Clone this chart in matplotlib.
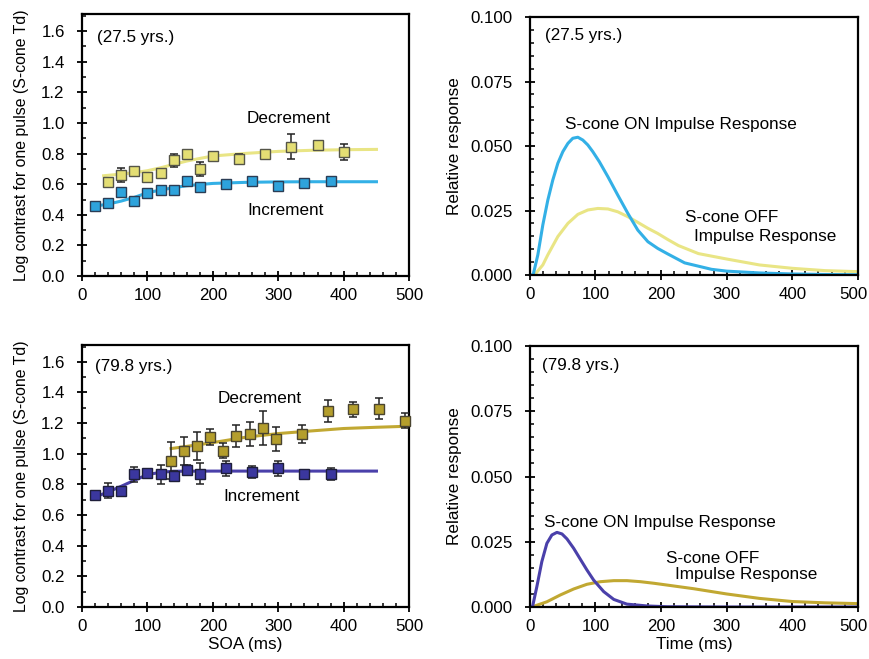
import matplotlib.pyplot as plt
from matplotlib.ticker import MultipleLocator, FuncFormatter

plt.rcParams['font.family'] = ['Liberation Sans', 'DejaVu Sans']

# ---- top left: 27.5 yrs, thresholds vs SOA ----
tl_inc_x = [20, 40, 60, 80, 100, 120, 140, 160, 180, 220, 260, 300, 340, 380]
tl_inc_y = [0.46, 0.48, 0.55, 0.49, 0.54, 0.56, 0.56, 0.62, 0.58, 0.60, 0.62, 0.59, 0.61, 0.62]
tl_inc_err = [0.015, 0.02, 0.02, 0.015, 0.015, 0.015, 0.015, 0.02, 0.015, 0.015, 0.015, 0.015, 0.015, 0.015]
tl_dec_x = [40, 60, 80, 100, 120, 140, 160, 180, 200, 240, 280, 320, 360, 400]
tl_dec_y = [0.615, 0.66, 0.685, 0.65, 0.675, 0.755, 0.795, 0.70, 0.785, 0.765, 0.80, 0.845, 0.855, 0.81]
tl_dec_err = [0.02, 0.045, 0.03, 0.02, 0.02, 0.04, 0.03, 0.045, 0.015, 0.03, 0.015, 0.08, 0.015, 0.05]
tl_fit_inc_x = [20, 40, 60, 80, 100, 120, 140, 160, 180, 200, 250, 300, 350, 400, 450]
tl_fit_inc_y = [0.457, 0.470, 0.490, 0.514, 0.544, 0.562, 0.577, 0.590, 0.598, 0.605, 0.612, 0.615, 0.616, 0.616, 0.616]
tl_fit_dec_x = [33, 60, 80, 100, 120, 140, 160, 180, 200, 250, 300, 350, 400, 450]
tl_fit_dec_y = [0.655, 0.666, 0.675, 0.688, 0.707, 0.729, 0.751, 0.768, 0.784, 0.801, 0.814, 0.821, 0.825, 0.827]

# ---- bottom left: 79.8 yrs ----
bl_inc_x = [20, 40, 60, 80, 100, 120, 140, 160, 180, 220, 260, 300, 340, 380]
bl_inc_y = [0.73, 0.76, 0.76, 0.865, 0.875, 0.865, 0.855, 0.895, 0.87, 0.905, 0.88, 0.905, 0.865, 0.87]
bl_inc_err = [0.02, 0.05, 0.02, 0.05, 0.02, 0.06, 0.03, 0.03, 0.07, 0.05, 0.04, 0.05, 0.02, 0.04]
bl_dec_x = [136, 156, 176, 196, 216, 236, 256, 276, 296, 336, 376, 414, 454, 494]
bl_dec_y = [0.955, 1.02, 1.05, 1.11, 1.02, 1.115, 1.13, 1.17, 1.095, 1.13, 1.28, 1.29, 1.295, 1.215]
bl_dec_err = [0.12, 0.09, 0.09, 0.05, 0.05, 0.07, 0.08, 0.11, 0.08, 0.06, 0.07, 0.05, 0.07, 0.05]
bl_fit_inc_x = [20, 40, 60, 80, 100, 120, 140, 200, 300, 450]
bl_fit_inc_y = [0.718, 0.751, 0.788, 0.827, 0.864, 0.879, 0.886, 0.887, 0.887, 0.887]
bl_fit_dec_x = [136, 150, 200, 250, 300, 350, 400, 450, 500]
bl_fit_dec_y = [1.034, 1.042, 1.073, 1.108, 1.132, 1.149, 1.165, 1.173, 1.180]

# ---- top right: impulse responses, 27.5 yrs ----
tr_on_t = [0, 5, 12.2, 19.8, 27.4, 35, 42.7, 50.3, 58, 65.5, 73.2, 80.8, 88.4, 96, 106, 119, 134, 149.4,
           164.6, 180, 195, 210, 236, 277, 300, 350, 400, 450, 500]
tr_on_r = [0, 0, 0.0078, 0.0194, 0.029, 0.0368, 0.0433, 0.0478, 0.051, 0.053, 0.0534, 0.0523, 0.0504, 0.0478,
           0.0439, 0.0381, 0.031, 0.0239, 0.0174, 0.0129, 0.0103, 0.0082, 0.0047, 0.0022, 0.0015, 0.0008,
           0.0004, 0.0002, 0.0001]
tr_off_t = [0, 7, 19.8, 27.4, 42.7, 58, 73.2, 88.4, 103.7, 119, 134, 149.4, 164.6, 180, 195, 210, 226.6, 257,
            300, 350, 400, 450, 500]
tr_off_r = [0, 0, 0.0039, 0.0078, 0.0149, 0.020, 0.0235, 0.0252, 0.0258, 0.0256, 0.0245, 0.0226, 0.0204,
            0.0181, 0.0161, 0.0138, 0.0114, 0.0083, 0.0062, 0.0039, 0.0026, 0.0017, 0.0013]

# ---- bottom right: impulse responses, 79.8 yrs ----
br_on_t = [0, 4, 10.7, 18.3, 26, 33.6, 41.3, 49, 56.6, 66.8, 77, 87, 97.3, 112.6, 128, 148, 179, 209.5,
           300, 400, 500]
br_on_r = [0, 0, 0.0078, 0.0174, 0.0244, 0.0276, 0.0286, 0.028, 0.0261, 0.0225, 0.0183, 0.0142, 0.0103,
           0.0059, 0.0029, 0.0011, 0.0004, 0.0001, 0, 0, 0]
br_off_t = [0, 3, 26, 46.4, 66.8, 87, 107.5, 128, 148, 168.7, 189, 209.5, 250, 300, 350, 400, 450, 500]
br_off_r = [0, 0, 0.0020, 0.0046, 0.0069, 0.0087, 0.0097, 0.0101, 0.0101, 0.0097, 0.0091, 0.0084, 0.0070,
            0.0050, 0.0033, 0.0021, 0.0016, 0.0013]

fig = plt.figure(figsize=(8.7, 6.59), dpi=100)
ax_tl = fig.add_axes([0.0943, 0.581, 0.376, 0.3976])
ax_bl = fig.add_axes([0.0943, 0.0789, 0.376, 0.3976])
ax_tr = fig.add_axes([0.609, 0.5827, 0.377, 0.3915])
ax_br = fig.add_axes([0.609, 0.0789, 0.377, 0.396])

FS = 12.3
TICK_FS = 12.2


def style(ax, ymaj, ymin):
    for s in ax.spines.values():
        s.set_linewidth(1.6)
    ax.xaxis.set_major_locator(MultipleLocator(100))
    ax.xaxis.set_minor_locator(MultipleLocator(20))
    ax.yaxis.set_major_locator(MultipleLocator(ymaj))
    ax.yaxis.set_minor_locator(MultipleLocator(ymin))
    ax.tick_params(which='major', direction='inout', length=7, width=1.3, labelsize=TICK_FS)
    ax.tick_params(which='minor', direction='in', length=3, width=1.1)
    ax.tick_params(axis='y', which='major', pad=9)
    ax.tick_params(axis='x', which='major', pad=5)
    ax.set_xlim(0, 500)


for ax in (ax_tl, ax_bl):
    style(ax, 0.2, 0.1)
    ax.set_ylim(0, 1.71)
    ax.set_ylabel('Log contrast for one pulse (S-cone Td)', fontsize=11.4, labelpad=9)
    ax.yaxis.set_major_formatter(plt.FormatStrFormatter('%.1f'))

for ax in (ax_tr, ax_br):
    style(ax, 0.025, 0.005)
    ax.set_ylim(0, 0.1)
    ax.set_ylabel('Relative response', fontsize=FS, labelpad=6)
    ax.yaxis.set_major_formatter(plt.FormatStrFormatter('%.3f'))
    # the last label sits at the figure edge; draw it by hand a bit to the left
    ax.xaxis.set_major_formatter(FuncFormatter(lambda v, p: '' if v >= 500 else '%d' % v))
    ax.annotate('500', xy=(1, 0), xycoords='axes fraction', xytext=(-3.5, -8.5),
                textcoords='offset points', ha='center', va='top', fontsize=TICK_FS)


def points(ax, x, y, err, fill, edge):
    ax.errorbar(x, y, yerr=err, fmt='none', ecolor='#222222', elinewidth=1.1, capsize=3, capthick=1.1, zorder=3)
    ax.plot(x, y, 's', ms=7, mfc=fill, mec=edge, mew=1.0, zorder=4, clip_on=False)


# top left
ax_tl.plot(tl_fit_inc_x, tl_fit_inc_y, color='#33b0e6', lw=2.2, zorder=2)
ax_tl.plot(tl_fit_dec_x, tl_fit_dec_y, color='#e9e585', lw=2.2, zorder=2)
points(ax_tl, tl_inc_x, tl_inc_y, tl_inc_err, '#2ea3dc', '#2b3d55')
points(ax_tl, tl_dec_x, tl_dec_y, tl_dec_err, '#e4de74', '#555548')
ax_tl.text(23, 1.56, '(27.5 yrs.)', fontsize=FS, va='center')
ax_tl.text(251, 1.026, 'Decrement', fontsize=FS, va='center')
ax_tl.text(252, 0.431, 'Increment', fontsize=FS, va='center')

# bottom left
ax_bl.plot(bl_fit_inc_x, bl_fit_inc_y, color='#4a40aa', lw=2.2, zorder=2)
ax_bl.plot(bl_fit_dec_x, bl_fit_dec_y, color='#c1a832', lw=2.2, zorder=2)
points(ax_bl, bl_inc_x, bl_inc_y, bl_inc_err, '#3b379f', '#1e1e3a')
points(ax_bl, bl_dec_x, bl_dec_y, bl_dec_err, '#b49e2c', '#4a4430')
ax_bl.text(20, 1.572, '(79.8 yrs.)', fontsize=FS, va='center')
ax_bl.text(208, 1.363, 'Decrement', fontsize=FS, va='center')
ax_bl.text(216, 0.72, 'Increment', fontsize=FS, va='center')
ax_bl.set_xlabel('SOA (ms)', fontsize=FS, labelpad=2)

# top right
ax_tr.plot(tr_off_t, tr_off_r, color='#e9e585', lw=2.2)
ax_tr.plot(tr_on_t, tr_on_r, color='#33b0e6', lw=2.2)
ax_tr.text(23, 0.093, '(27.5 yrs.)', fontsize=FS, va='center')
ax_tr.text(53, 0.0585, 'S-cone ON Impulse Response', fontsize=FS, va='center')
ax_tr.text(236, 0.0221, 'S-cone OFF', fontsize=FS, va='center')
ax_tr.text(251, 0.0151, 'Impulse Response', fontsize=FS, va='center')

# bottom right
ax_br.plot(br_off_t, br_off_r, color='#c1a832', lw=2.2)
ax_br.plot(br_on_t, br_on_r, color='#4a40aa', lw=2.2)
ax_br.text(18, 0.0927, '(79.8 yrs.)', fontsize=FS, va='center')
ax_br.text(21, 0.0323, 'S-cone ON Impulse Response', fontsize=FS, va='center')
ax_br.text(207, 0.0187, 'S-cone OFF', fontsize=FS, va='center')
ax_br.text(222, 0.0123, 'Impulse Response', fontsize=FS, va='center')
ax_br.set_xlabel('Time (ms)', fontsize=FS, labelpad=2)

fig.savefig('out.png', dpi=100)
